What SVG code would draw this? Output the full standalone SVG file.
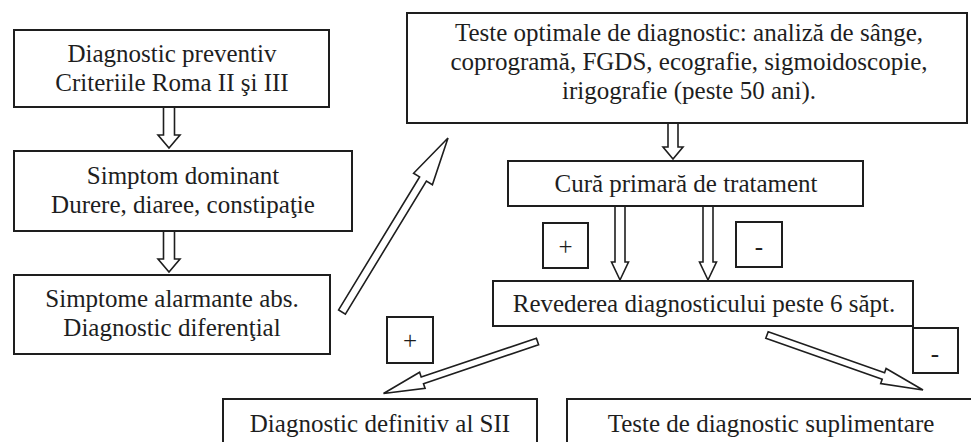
<svg xmlns="http://www.w3.org/2000/svg" width="971" height="442" viewBox="0 0 971 442">
<style>
  .box { fill: #ffffff; stroke: #1e1e1e; stroke-width: 2; }
  .lbl { fill: #1e1e1e; font-family: "Liberation Serif", "Times New Roman", serif; font-size: 25px; text-anchor: middle; }
  .arr { fill: #ffffff; stroke: #1e1e1e; stroke-width: 1.6; stroke-linejoin: miter; }
</style>
<rect x="0" y="0" width="971" height="442" fill="#ffffff"/>

<g id="connectors">
  <polygon class="arr" points="163.5,107 174.5,107 174.5,135 180,135 169,148 158,135 163.5,135"/>
  <polygon class="arr" points="163.5,231 174.5,231 174.5,259 180,259 169,272 158,259 163.5,259"/>
  <polygon class="arr" points="668,123 678,123 678,147 683,147 673,159 663,147 668,147"/>
  <polygon class="arr" points="615,206 625,206 625,262 628.5,262 620,280 611.5,262 615,262"/>
  <polygon class="arr" points="703,206 713,206 713,262 716.5,262 708,280 699.5,262 703,262"/>
  <polygon class="arr" points="345.4,314.1 426.4,181.1 432.4,184.7 448,138 413.6,173.3 419.6,176.9 338.6,309.9"/>
  <polygon class="arr" points="538.6,344.8 423.5,383.7 425.1,388.4 383.5,393.5 419.6,372.3 421.2,377.1 536.4,338.2"/>
  <polygon class="arr" points="765.8,338.3 882.2,379.3 880.7,383.6 923,390 886.1,368.5 884.6,372.7 768.2,331.7"/>
</g>

<g id="node-preventiv">
  <rect class="box" x="14" y="30" width="315" height="77"/>
  <text class="lbl" x="172" y="62">Diagnostic preventiv</text>
  <text class="lbl" x="172" y="91">Criteriile Roma II şi III</text>
</g>

<g id="node-simptom">
  <rect class="box" x="14" y="151" width="338" height="80"/>
  <text class="lbl" x="183" y="184">Simptom dominant</text>
  <text class="lbl" x="183" y="213">Durere, diaree, constipaţie</text>
</g>

<g id="node-alarmante">
  <rect class="box" x="14" y="275" width="316" height="79"/>
  <text class="lbl" x="172" y="307">Simptome alarmante abs.</text>
  <text class="lbl" x="172" y="336">Diagnostic diferenţial</text>
</g>

<g id="node-teste-optimale">
  <rect class="box" x="407" y="13" width="560" height="110"/>
  <text class="lbl" x="689" y="41">Teste optimale de diagnostic: analiză de sânge,</text>
  <text class="lbl" x="689" y="70">coprogramă, FGDS, ecografie, sigmoidoscopie,</text>
  <text class="lbl" x="689" y="99">irigografie (peste 50 ani).</text>
</g>

<g id="node-cura">
  <rect class="box" x="508" y="161" width="355" height="45"/>
  <text class="lbl" x="686" y="192">Cură primară de tratament</text>
</g>

<g id="node-plus-1">
  <rect class="box" x="543" y="223" width="45" height="45"/>
  <text class="lbl" x="565.5" y="255">+</text>
</g>

<g id="node-minus-1">
  <rect class="box" x="736" y="222" width="46" height="45"/>
  <text class="lbl" x="759" y="255">-</text>
</g>

<g id="node-revederea">
  <rect class="box" x="493" y="281" width="420" height="45"/>
  <text class="lbl" x="704" y="312">Revederea diagnosticului peste 6 săpt.</text>
</g>

<g id="node-plus-2">
  <rect class="box" x="387" y="317" width="46" height="46"/>
  <text class="lbl" x="410" y="349">+</text>
</g>

<g id="node-minus-2">
  <rect class="box" x="913" y="328" width="45" height="45"/>
  <text class="lbl" x="935" y="362">-</text>
</g>

<g id="node-definitiv">
  <rect class="box" x="223" y="399" width="314" height="60"/>
  <text class="lbl" x="380" y="432">Diagnostic definitiv al SII</text>
</g>

<g id="node-suplimentare">
  <rect class="box" x="567" y="399" width="410" height="60"/>
  <text class="lbl" x="771" y="432">Teste de diagnostic suplimentare</text>
</g>
</svg>
